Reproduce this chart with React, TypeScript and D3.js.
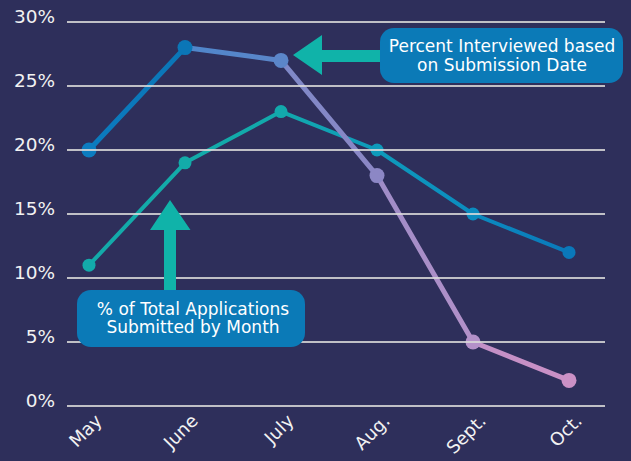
import React, { useEffect, useRef } from "react";
import * as d3 from "d3";

const months = ["May", "June", "July", "Aug.", "Sept.", "Oct."];
const interviewed = [20, 28, 27, 18, 5, 2];
const submitted = [11, 19, 23, 20, 15, 12];
const yTicks = [0, 5, 10, 15, 20, 25, 30];

const interviewedColors = ["#0c7cc0", "#0b76b7", "#5b86c9", "#8c87c5", "#b391c9", "#cb91c6"];
const interviewedSegStart = ["#0b7bbf", "#4f86cb", "#7e89c8", "#9e8cc7", "#c18fc6"];
const submittedColors = ["#13aaaa", "#13aba9", "#12a9ac", "#0e9bbb", "#0b8bbf", "#0a78ba"];

const width = 631;
const height = 461;
const bg = "#2e2f5b";
const font = "'DejaVu Sans', sans-serif";

const App = () => {
  const ref = useRef<SVGSVGElement>(null);

  useEffect(() => {
    const svg = d3.select(ref.current);
    svg.selectAll("*").remove();

    const x = d3.scalePoint<string>().domain(months).range([89, 569]);
    const y = d3.scaleLinear().domain([0, 30]).range([406, 22]);

    svg.append("rect").attr("width", width).attr("height", height).attr("fill", bg);

    const defs = svg.append("defs");

    // y labels
    svg
      .append("g")
      .selectAll("text")
      .data(yTicks)
      .enter()
      .append("text")
      .attr("x", 55)
      .attr("y", (d) => y(d) + 0.5)
      .attr("text-anchor", "end")
      .attr("fill", "#f2f2f2")
      .style("font-family", font)
      .style("font-size", "18.5px")
      .text((d) => `${d}%`);

    // x labels
    svg
      .append("g")
      .selectAll("text")
      .data(months)
      .enter()
      .append("text")
      .attr("transform", (d) => `translate(${x(d)! + 14}, 422) rotate(-45)`)
      .attr("text-anchor", "end")
      .attr("fill", "#f2f2f2")
      .style("font-family", font)
      .style("font-size", "18px")
      .text((d) => d);

    const drawSeries = (
      values: number[],
      dotColors: string[],
      segStart: string[],
      key: string,
      strokeWidth: number,
      r: number,
    ) => {
      const g = svg.append("g");
      for (let i = 0; i < values.length - 1; i++) {
        const x1 = x(months[i])!;
        const x2 = x(months[i + 1])!;
        const y1 = y(values[i]);
        const y2 = y(values[i + 1]);
        const id = `${key}-grad-${i}`;
        const grad = defs
          .append("linearGradient")
          .attr("id", id)
          .attr("gradientUnits", "userSpaceOnUse")
          .attr("x1", x1)
          .attr("y1", y1)
          .attr("x2", x2)
          .attr("y2", y2);
        grad.append("stop").attr("offset", "0%").attr("stop-color", segStart[i]);
        grad.append("stop").attr("offset", "100%").attr("stop-color", dotColors[i + 1]);
        g.append("line")
          .attr("x1", x1)
          .attr("y1", y1)
          .attr("x2", x2)
          .attr("y2", y2)
          .attr("stroke", `url(#${id})`)
          .attr("stroke-width", strokeWidth)
          .attr("stroke-linecap", "round");
      }
      g.selectAll("circle")
        .data(values)
        .enter()
        .append("circle")
        .attr("cx", (_d, i) => x(months[i])!)
        .attr("cy", (d) => y(d))
        .attr("r", r)
        .attr("fill", (_d, i) => dotColors[i]);
    };

    drawSeries(submitted, submittedColors, submittedColors.slice(0, 5), "sub", 4, 6.5);
    drawSeries(interviewed, interviewedColors, interviewedSegStart, "int", 5, 7.5);

    // gridlines on top of the lines
    svg
      .append("g")
      .selectAll("line")
      .data(yTicks)
      .enter()
      .append("line")
      .attr("x1", 67)
      .attr("x2", 605)
      .attr("y1", (d) => y(d))
      .attr("y2", (d) => y(d))
      .attr("stroke", "#d9d9d9")
      .attr("stroke-opacity", 0.85)
      .attr("stroke-width", 2);

    const teal = "#10b3a9";
    const boxBlue = "#0b7ab7";

    // arrow pointing to July (interviewed)
    svg
      .append("path")
      .attr("d", "M293,55 L322,35 L322,50 L385,50 L385,62 L322,62 L322,75 Z")
      .attr("fill", teal);
    svg
      .append("rect")
      .attr("x", 380)
      .attr("y", 28)
      .attr("width", 243)
      .attr("height", 55)
      .attr("rx", 14)
      .attr("fill", boxBlue);
    const t1 = svg
      .append("text")
      .attr("text-anchor", "middle")
      .attr("fill", "#ffffff")
      .style("font-family", font)
      .style("font-size", "17px");
    t1.append("tspan").attr("x", 502).attr("y", 52).text("Percent Interviewed based");
    t1.append("tspan").attr("x", 502).attr("y", 71).text("on Submission Date");

    // arrow pointing up at submitted line
    svg
      .append("path")
      .attr("d", "M170,200 L190.5,230 L176,230 L176,295 L164,295 L164,230 L150,230 Z")
      .attr("fill", teal);
    svg
      .append("rect")
      .attr("x", 77)
      .attr("y", 290)
      .attr("width", 228)
      .attr("height", 57)
      .attr("rx", 14)
      .attr("fill", boxBlue);
    const t2 = svg
      .append("text")
      .attr("text-anchor", "middle")
      .attr("fill", "#ffffff")
      .style("font-family", font)
      .style("font-size", "17px");
    t2.append("tspan").attr("x", 193).attr("y", 315).text("% of Total Applications");
    t2.append("tspan").attr("x", 193).attr("y", 333).text("Submitted by Month");
  }, []);

  return (
    <svg
      ref={ref}
      width={width}
      height={height}
      style={{ position: "absolute", left: 0, top: 0, display: "block" }}
    />
  );
};

export default App;
